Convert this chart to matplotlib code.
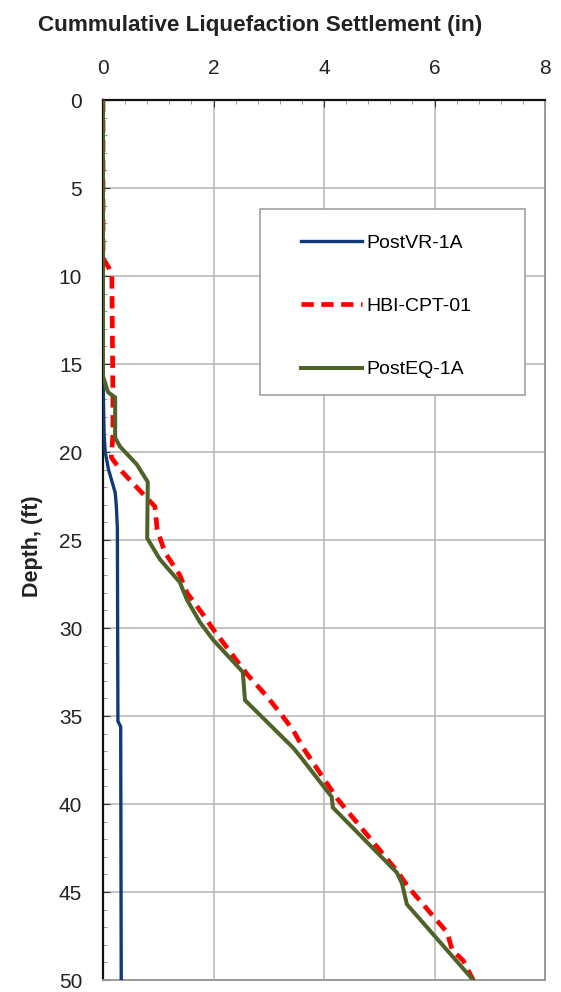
import matplotlib
matplotlib.use('Agg')
import matplotlib.pyplot as plt
from matplotlib.patches import Rectangle
from matplotlib.ticker import MultipleLocator

# Data (settlement in inches, depth in ft)
vr_depth = [0, 15.7, 19.0, 20.0, 21.0, 22.3, 23.0, 24.3, 35.3, 35.6, 50]
vr_settle = [0, 0, 0.02, 0.04, 0.10, 0.22, 0.24, 0.26, 0.27, 0.32, 0.33]

cpt_depth = [0, 9.0, 9.5, 10.0, 17.0, 19.0, 20.3, 21.0, 22.2, 23.1, 24.4, 25.7,
             27.0, 28.0, 29.4, 30.1, 32.6, 33.9, 34.8, 35.8, 36.8, 39.7, 43.8,
             44.7, 47.3, 48.3, 48.9, 50]
cpt_settle = [0, 0, 0.10, 0.16, 0.18, 0.18, 0.15, 0.31, 0.67, 0.94, 0.98, 1.12,
              1.39, 1.52, 1.85, 2.00, 2.60, 2.97, 3.20, 3.44, 3.62, 4.24, 5.32,
              5.52, 6.23, 6.32, 6.52, 6.70]

eq_depth = [0, 15.7, 16.6, 16.9, 19.2, 19.7, 20.7, 21.7, 24.9, 26.1, 27.4, 28.4,
            29.7, 30.7, 32.5, 34.1, 36.8, 37.3, 39.6, 40.2, 43.9, 44.5, 45.7, 50]
eq_settle = [0, 0, 0.09, 0.22, 0.22, 0.31, 0.61, 0.81, 0.80, 1.03, 1.39, 1.52,
             1.76, 2.00, 2.53, 2.57, 3.44, 3.57, 4.14, 4.16, 5.32, 5.41, 5.50, 6.70]

x_ticks = [0, 2, 4, 6, 8]
y_ticks = [0, 5, 10, 15, 20, 25, 30, 35, 40, 45, 50]

plt.rcParams['font.family'] = ['Liberation Sans', 'DejaVu Sans']

fig = plt.figure(figsize=(5.61, 9.92), dpi=100)
ax = fig.add_axes([103 / 561, 1 - 980 / 992, 442 / 561, 880 / 992])

# Curves
ax.plot(vr_settle, vr_depth, color='#0e3b78', lw=2.4, label='PostVR-1A', zorder=4)
ax.plot(cpt_settle, cpt_depth, color='#ff0000', lw=3.4, ls=(0, (2.6, 1.6)),
        label='HBI-CPT-01', zorder=3)
ax.plot(eq_settle, eq_depth, color='#4f6228', lw=2.9, label='PostEQ-1A', zorder=5)

# Axes limits / ticks
ax.set_xlim(0, 8)
ax.set_ylim(50, 0)
ax.set_xticks(x_ticks)
ax.set_yticks(y_ticks)
ax.xaxis.set_minor_locator(MultipleLocator(0.4))
ax.yaxis.set_minor_locator(MultipleLocator(1))
ax.xaxis.tick_top()
ax.tick_params(axis='both', which='major', direction='in', length=5, labelsize=15,
               colors='#333333', labelcolor='#222222')
ax.tick_params(axis='x', which='major', pad=16)
ax.tick_params(axis='y', which='major', pad=15)
ax.tick_params(axis='both', which='minor', direction='in', length=3, color='#888888')

# Grid
ax.grid(True, which='major', color='#b4b4b4', lw=1.1)
ax.set_axisbelow(True)

# Spines
for side in ['top', 'left']:
    ax.spines[side].set_color('#111111')
    ax.spines[side].set_linewidth(1.6)
for side in ['right', 'bottom']:
    ax.spines[side].set_color('#9a9a9a')
    ax.spines[side].set_linewidth(1.4)

# Labels
ax.xaxis.set_label_position('top')
ax.set_xlabel('Cummulative Liquefaction Settlement (in)', fontsize=16.2,
              fontweight='bold', labelpad=20, color='#222222')
ax.xaxis.label.set_x(0.355)
ax.set_ylabel('Depth, (ft)', fontsize=15.5, fontweight='bold', color='#222222')
ax.yaxis.set_label_coords(-0.136, 0.493)

# Legend: box drawn separately so the entries can sit inset like the original
ax.add_patch(Rectangle((0.355, 0.665), 0.6, 0.211, transform=ax.transAxes,
                       facecolor='white', edgecolor='#a8a8a8', lw=1.3, zorder=6))
leg = ax.legend(loc='upper left', bbox_to_anchor=(0.449, 0.8475),
                fontsize=14, handlelength=3.1, handletextpad=0.25,
                labelspacing=2.35, borderpad=0, borderaxespad=0,
                frameon=False)
leg.set_zorder(7)

fig.savefig('out.png', dpi=100)
plt.close(fig)
